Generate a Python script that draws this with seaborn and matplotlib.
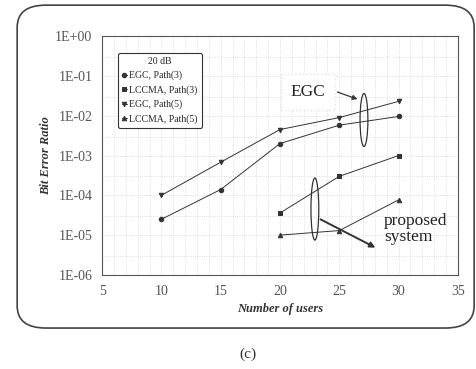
import numpy as np
import pandas as pd
import seaborn as sns
import matplotlib.pyplot as plt
from matplotlib.patches import Ellipse, FancyBboxPatch

# data
users_a = [10, 15, 20, 25, 30]
egc_p3 = [2.5e-5, 1.4e-4, 2.0e-3, 5.8e-3, 9.6e-3]
egc_p5 = [1.0e-4, 6.8e-4, 4.5e-3, 9.0e-3, 2.3e-2]
users_b = [20, 25, 30]
lccma_p3 = [3.6e-5, 3.0e-4, 1.0e-3]
lccma_p5 = [1.0e-5, 1.3e-5, 7.7e-5]

names = ['EGC, Path(3)', 'LCCMA, Path(3)', 'EGC, Path(5)', 'LCCMA, Path(5)']
rows = []
for n, xs, ys in zip(names, [users_a, users_b, users_a, users_b],
                     [egc_p3, lccma_p3, egc_p5, lccma_p5]):
    for x, y in zip(xs, ys):
        rows.append({'users': x, 'ber': y, 'series': n})
df = pd.DataFrame(rows)

sns.set_style('white')
plt.rcParams['font.family'] = ['Liberation Serif', 'DejaVu Serif']

fig = plt.figure(figsize=(4.77, 3.69), dpi=100)
ax = fig.add_axes([0.214, 0.255, 0.746, 0.647])

# rounded frame around the whole chart
fig.patches.append(FancyBboxPatch((0.036, 0.111), 0.958, 0.875,
                                  boxstyle='round,pad=0,rounding_size=0.06',
                                  transform=fig.transFigure, fill=False,
                                  edgecolor='#444444', linewidth=1.2))

sns.lineplot(data=df, x='users', y='ber', hue='series', style='series',
             hue_order=names, style_order=names,
             palette=['#333333'] * 4, dashes=False,
             markers={'EGC, Path(3)': 'o', 'LCCMA, Path(3)': 's',
                      'EGC, Path(5)': 'v', 'LCCMA, Path(5)': '^'},
             markersize=3.2, linewidth=0.7, markeredgecolor='#333333', ax=ax)

ax.set_yscale('log')
ax.set_xlim(5, 35)
ax.set_ylim(1e-6, 1)
ax.set_xticks([5, 10, 15, 20, 25, 30, 35])
yt = [1e0, 1e-1, 1e-2, 1e-3, 1e-4, 1e-5, 1e-6]
ax.set_yticks(yt)
ax.set_yticklabels(['1E+00', '1E-01', '1E-02', '1E-03', '1E-04', '1E-05', '1E-06'])
ax.set_xticks(np.arange(5, 36, 1), minor=True)
ax.set_yticks([3e-1, 3e-2, 3e-3, 3e-4, 3e-5, 3e-6], minor=True)
ax.tick_params(axis='both', labelsize=10, colors='#555555', length=0, pad=7)
ax.tick_params(which='minor', length=0)
ax.grid(True, which='both', linestyle=':', color='#d4d4d4', linewidth=0.6)
for s in ax.spines.values():
    s.set_color('#555555')
    s.set_linewidth(0.8)

ax.set_xlabel('Number of users', fontsize=9, fontstyle='italic', fontweight='bold', color='#333333')
ax.set_ylabel('Bit Error Ratio', fontsize=9, fontstyle='italic', fontweight='bold', color='#333333',
              labelpad=2)

leg = ax.legend(title='20 dB', loc='upper left', bbox_to_anchor=(0.03, 0.95),
                fontsize=7, title_fontsize=7, handlelength=0.6, handletextpad=0.2,
                borderpad=0.4, labelspacing=0.5, frameon=True, fancybox=True)
leg.get_frame().set_edgecolor('#333333')
leg.get_frame().set_linewidth(0.8)
leg.get_frame().set_alpha(1)

# annotations
ax.text(0.579, 0.766, 'EGC', transform=ax.transAxes, fontsize=12.5, ha='center', va='center',
        color='#222222', bbox=dict(facecolor='white', edgecolor='#e4e4e4', linestyle=':', pad=7))
ax.add_patch(Ellipse((0.736, 0.649), 0.022, 0.222, transform=ax.transAxes,
                     fill=False, edgecolor='#333333', linewidth=0.9))
ax.annotate('', xy=(0.725, 0.732), xytext=(0.654, 0.770), xycoords='axes fraction',
            arrowprops=dict(arrowstyle='-|>', color='#333333', lw=0.9, mutation_scale=7))

ax.add_patch(Ellipse((0.598, 0.276), 0.022, 0.26, transform=ax.transAxes,
                     fill=False, edgecolor='#333333', linewidth=0.9))
ax.text(0.792, 0.192, 'proposed\nsystem', transform=ax.transAxes, fontsize=12.5,
        ha='left', va='center', color='#222222', linespacing=0.95)
ax.annotate('', xy=(0.775, 0.109), xytext=(0.607, 0.238), xycoords='axes fraction',
            arrowprops=dict(arrowstyle='-|>', color='#333333', lw=1.4, mutation_scale=8))

fig.text(0.52, 0.04, '(c)', fontsize=11, ha='center', va='center', color='#333333')

plt.savefig('out.png', dpi=100)
